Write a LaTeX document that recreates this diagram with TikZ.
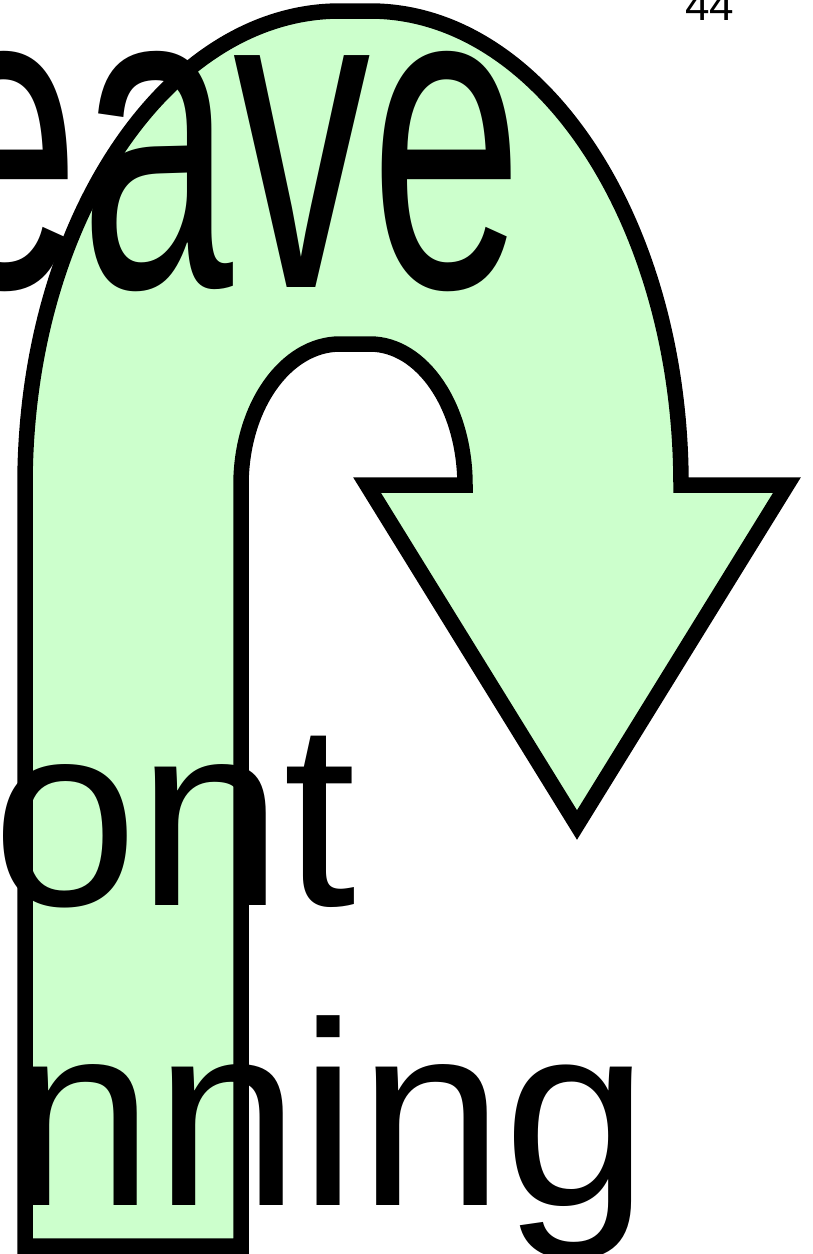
\documentclass[tikz,border=0pt]{standalone}
\usepackage{fontspec}
\setmainfont{Liberation Sans}
\usepackage{graphicx}
\definecolor{arrowfill}{HTML}{CCFFCC}
\begin{document}
\begin{tikzpicture}[x=1pt,y=-1pt,
  uturn/.style={draw=black,fill=arrowfill,line width=15.5pt,line join=miter,miter limit=10},
  txt/.style={inner sep=0pt,outer sep=0pt,anchor=base west,text=black}]
\useasboundingbox (0,0) rectangle (812,1254);
% U-turn arrow
\coordinate (sbl) at (25,1246);
\coordinate (ol) at (25,485);
\coordinate (otl) at (340,11);
\coordinate (otr) at (370,11);
\coordinate (or) at (681,485);
\coordinate (tr) at (787,485);
\coordinate (apex) at (577,825);
\coordinate (tl) at (367,485);
\coordinate (ir) at (465,485);
\coordinate (itr) at (370,344);
\coordinate (itl) at (340,344);
\coordinate (il) at (241,485);
\coordinate (sbr) at (241,1246);
\draw[uturn] (sbl) -- (ol)
  .. controls (25,223.2) and (166,11) .. (otl) -- (otr)
  .. controls (541.8,11) and (681,223.2) .. (or)
  -- (tr) -- (apex) -- (tl) -- (ir)
  .. controls (465,407.1) and (422.5,344) .. (itr) -- (itl)
  .. controls (285.3,344) and (241,407.1) .. (il)
  -- (sbr) -- cycle;
% texts
\node[txt] (eave) at (-72,287) {\scalebox{0.626}[1]{\fontsize{439}{439}\selectfont eave}};
\node[txt] (ont) at (-8,905) {\fontsize{262}{262}\selectfont ont};
\node[txt] (nning) at (8.5,1205) {\fontsize{262}{262}\selectfont nning};
\node[txt] (num) at (685,20) {\fontsize{44}{44}\selectfont 44};
\end{tikzpicture}
\end{document}
